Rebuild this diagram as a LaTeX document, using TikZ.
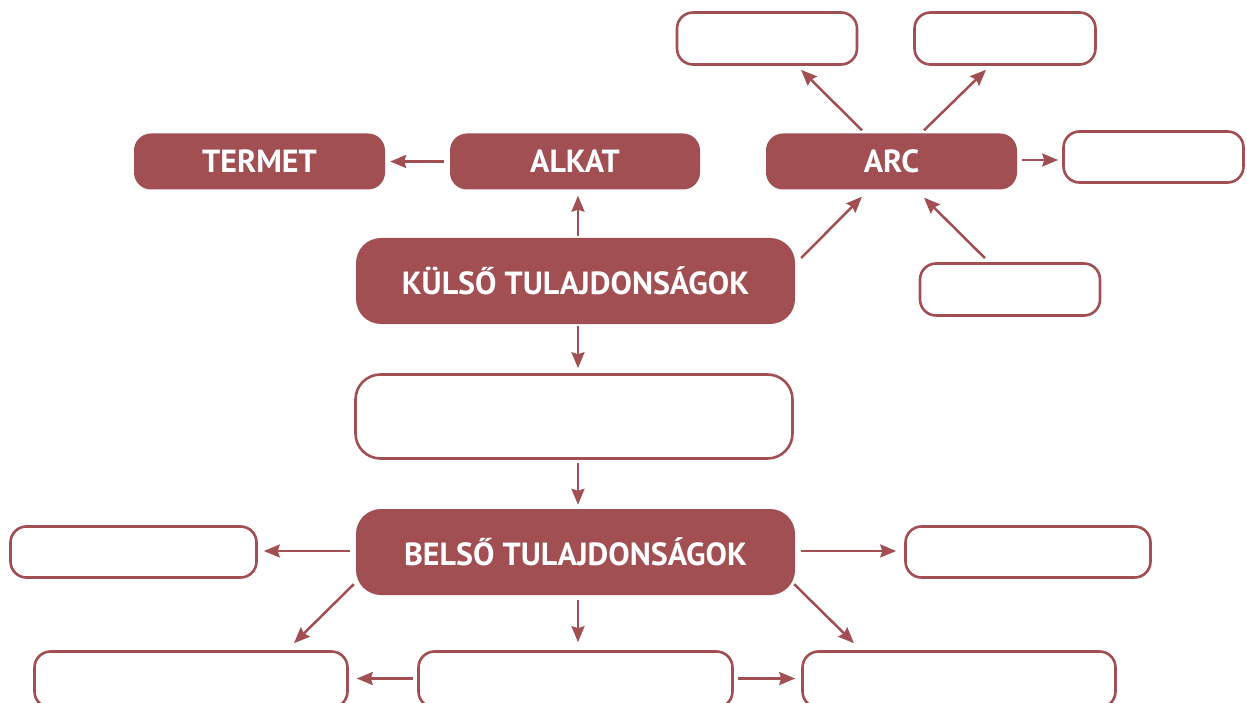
\documentclass[tikz,border=0pt]{standalone}
\usepackage{fontspec}
\setmainfont{PT Sans}
\usetikzlibrary{arrows.meta,calc}
\definecolor{wine}{RGB}{161,79,83}
\begin{document}
\begin{tikzpicture}[x=1pt,y=-1pt,
  filled/.style={rectangle,rounded corners=17pt,fill=wine,draw=none,text=white,font=\bfseries\fontsize{32}{36}\selectfont,inner sep=0pt},
  bigfilled/.style={filled,rounded corners=25pt},
  empty/.style={rectangle,rounded corners=16pt,draw=wine,line width=2.6pt,fill=white,inner sep=0pt},
  bigempty/.style={empty,rounded corners=25pt},
  arr/.style={draw=wine,line width=2.5pt,-{Stealth[length=16pt,width=13pt,inset=2pt]}}]
\useasboundingbox (0,0) rectangle (1247,703);
\begin{scope}
\clip (0,0) rectangle (1247,703);
% filled nodes
\node[filled,minimum width=251pt,minimum height=56pt] (termet) at (259.5,161.5) {TERMET};
\node[filled,minimum width=250pt,minimum height=56pt] (alkat) at (575,161.5) {ALKAT};
\node[filled,minimum width=251pt,minimum height=56pt] (arc) at (891.5,161.5) {ARC};
\node[bigfilled,minimum width=439pt,minimum height=86pt] (kulso) at (575.5,281) {KÜLSŐ TULAJDONSÁGOK};
\node[bigfilled,minimum width=439pt,minimum height=86pt] (belso) at (575.5,552) {BELSŐ TULAJDONSÁGOK};
% empty nodes
\node[bigempty,minimum width=437pt,minimum height=84pt] (mid) at (574,416.5) {};
\node[empty,minimum width=180pt,minimum height=52pt] (top1) at (767,38.5) {};
\node[empty,minimum width=181pt,minimum height=52pt] (top2) at (1005,38.5) {};
\node[empty,minimum width=180pt,minimum height=51pt] (arcr) at (1153.5,157) {};
\node[empty,minimum width=180pt,minimum height=52pt] (arcb) at (1010,289.5) {};
\node[empty,minimum width=246pt,minimum height=51pt] (bl) at (133.5,552) {};
\node[empty,minimum width=245pt,minimum height=51pt] (br) at (1028,552) {};
\node[empty,minimum width=313pt,minimum height=56pt] (dl) at (191,679.5) {};
\node[empty,minimum width=314pt,minimum height=56pt] (dm) at (575.5,679.5) {};
\node[empty,minimum width=313pt,minimum height=56pt] (dr) at (959,679.5) {};
% arrows
\draw[arr] ($(alkat.west)+(-6,0)$) -- ($(termet.east)+(5,0)$);
\draw[arr] ($(kulso.north)+(2.5,-2)$) -- ($(alkat.south)+(3,6)$);
\draw[arr] ($(kulso.east)+(6,-23)$) -- ($(arc.south)+(-29.5,7)$);
\draw[arr] ($(kulso.south)+(2.5,2)$) -- ($(mid.north)+(4,-5)$);
\draw[arr] ($(mid.south)+(4,3)$) -- ($(belso.north)+(2.5,-4)$);
\draw[arr] ($(arc.north)+(-29.5,-3)$) -- ($(top1.south)+(34,4)$);
\draw[arr] ($(arc.north)+(32.5,-3)$) -- ($(top2.south)+(-19,4)$);
\draw[arr] ($(arc.east)+(5,-1.5)$) -- ($(arcr.west)+(-4,3)$);
\draw[arr] ($(arcb.north)+(-25,-4)$) -- ($(arc.south)+(32.5,8)$);
\draw[arr] ($(belso.west)+(-6,-1)$) -- ($(bl.east)+(6,-1)$);
\draw[arr] ($(belso.east)+(6,-1)$) -- ($(br.west)+(-8,-1)$);
\draw[arr] ($(belso.south west)+(-2,-11)$) -- ($(dl.north)+(103,-7)$);
\draw[arr] ($(belso.south)+(2.5,5)$) -- ($(dm.north)+(2.5,-8)$);
\draw[arr] ($(belso.south east)+(-1,-11)$) -- ($(dr.north)+(-105,-7)$);
\draw[arr] ($(dm.west)+(-4,-1)$) -- ($(dl.east)+(8,-1)$);
\draw[arr] ($(dm.east)+(4,-1)$) -- ($(dr.west)+(-6,-1)$);
\end{scope}
\end{tikzpicture}
\end{document}
